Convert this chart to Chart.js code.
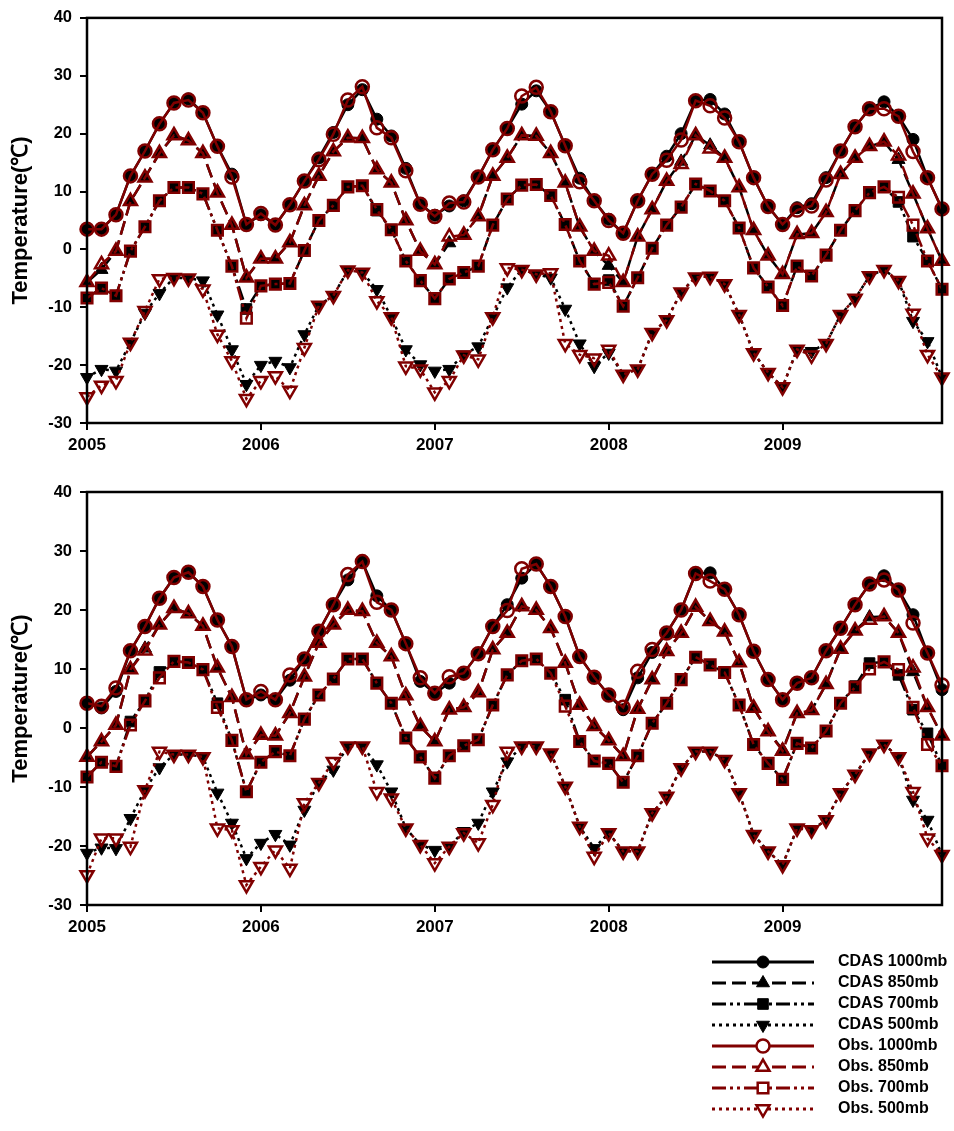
<!DOCTYPE html>
<html>
<head>
<meta charset="utf-8">
<script src="https://cdn.jsdelivr.net/npm/chart.js@4.4.1/dist/chart.umd.min.js"></script>
<style>
  body { margin: 0; background: #fff; }
  #wrap { position: relative; width: 954px; height: 1131px; }
  canvas { position: absolute; left: 0; }
  #top { top: 0; }
  #bottom { top: 460px; }
</style>
</head>
<body>
<div id="wrap">
  <canvas id="top" width="954" height="460" style="width:954px;height:460px"></canvas>
  <canvas id="bottom" width="954" height="671" style="width:954px;height:671px"></canvas>
</div>
<script>
// monthly values, Jan 2005 .. Dec 2009
const startYear = 2005;
const yearTicks = [2005, 2006, 2007, 2008, 2009];
const seriesNames = ["CDAS 1000mb", "CDAS 850mb", "CDAS 700mb", "CDAS 500mb",
                     "Obs. 1000mb", "Obs. 850mb", "Obs. 700mb", "Obs. 500mb"];

// upper panel
const cdas1000A = [3.5,3.5,6.0,12.7,17.0,21.7,25.3,26.0,23.6,17.8,13.0,4.3, 6.0,4.2,7.7,11.8,15.8,20.2,25.0,27.6,22.5,19.6,14.0,7.8, 5.9,7.5,8.4,12.5,17.2,20.9,25.1,27.4,23.8,17.9,12.3,8.4, 5.2,2.8,8.4,13.0,16.1,20.0,25.7,25.9,23.4,18.6,12.4,7.4, 4.3,7.2,7.9,12.4,17.0,21.2,24.3,25.5,23.0,19.0,12.4,7.0];
const cdas850A = [-5.7,-3.5,-0.3,8.3,12.4,16.6,19.7,18.8,16.6,9.8,4.2,-4.9, -1.6,-1.6,1.2,7.6,12.7,16.9,19.3,19.2,13.8,11.5,5.0,-0.3, -2.6,1.1,2.5,5.7,12.7,15.8,19.7,19.6,16.6,11.5,3.9,-0.3, -2.8,-5.7,2.2,6.9,11.8,15.2,19.7,18.0,15.8,10.7,3.3,-1.1, -4.3,2.6,2.8,6.4,13.0,15.8,17.8,18.6,15.5,9.6,3.6,-2.0];
const cdas700A = [-8.4,-6.7,-8.0,-0.3,3.9,8.4,10.7,10.7,9.6,3.3,-2.9,-10.3, -6.3,-6.0,-5.9,-0.2,5.0,7.6,10.8,11.0,6.7,3.4,-2.0,-5.4, -8.5,-5.1,-4.0,-2.9,4.2,8.7,11.1,11.2,9.3,4.3,-2.0,-6.0, -5.3,-9.8,-4.9,0.2,4.2,7.3,11.3,10.1,8.4,3.7,-3.2,-6.5, -9.7,-2.9,-4.6,-1.0,3.3,6.7,9.8,10.8,8.2,2.2,-2.0,-6.9];
const cdas500A = [-22.1,-20.7,-21.0,-16.1,-11.0,-7.6,-4.9,-5.0,-5.4,-11.3,-17.3,-23.3, -20.0,-19.3,-20.4,-14.7,-9.7,-8.0,-3.6,-4.0,-6.9,-11.7,-17.3,-19.9, -21.0,-20.7,-18.2,-16.8,-11.7,-6.6,-3.5,-4.3,-4.9,-10.3,-16.3,-20.2, -17.9,-21.6,-20.7,-14.4,-12.2,-7.4,-4.8,-4.7,-6.0,-11.3,-17.9,-21.3, -23.8,-17.3,-17.6,-16.3,-11.3,-8.5,-4.6,-3.5,-5.4,-12.4,-15.9,-22.1];
const obs1000A = [3.5,3.5,6.0,12.7,17.0,21.7,25.3,25.8,23.6,17.8,12.5,4.3, 6.2,4.2,7.7,11.8,15.5,19.9,25.8,28.1,21.0,19.3,13.6,7.8, 5.7,8.0,8.2,12.5,17.2,20.9,26.5,28.0,23.8,17.9,11.7,8.4, 5.0,2.8,8.4,13.0,15.4,18.9,25.7,24.8,22.7,18.6,12.4,7.4, 4.3,6.8,7.5,12.0,17.0,21.2,24.3,24.3,23.0,16.9,12.4,7.0];
const obs850A = [-5.7,-2.6,-0.3,8.3,12.4,16.6,19.7,18.8,16.6,9.8,4.2,-4.9, -1.6,-1.6,1.2,7.6,12.7,16.9,19.3,19.2,13.8,11.5,5.0,-0.3, -2.6,2.2,2.5,5.7,12.7,15.8,19.7,19.6,16.6,11.5,3.9,-0.3, -1.1,-5.7,2.2,6.9,11.8,14.7,19.7,17.4,15.8,10.7,3.3,-1.1, -4.3,2.6,2.8,6.4,13.0,15.8,17.8,18.6,16.2,9.6,3.6,-2.0];
const obs700A = [-8.4,-6.7,-8.0,-0.3,3.9,8.4,10.7,10.7,9.6,3.3,-2.9,-11.9, -6.3,-6.0,-5.9,-0.2,5.0,7.6,10.8,11.0,6.9,3.4,-2.0,-5.4, -8.5,-5.1,-4.0,-2.9,4.2,8.7,11.1,11.2,9.3,4.3,-2.0,-6.0, -5.7,-9.8,-4.9,0.2,4.2,7.3,11.3,10.1,8.4,3.7,-3.2,-6.5, -9.7,-2.9,-4.6,-1.0,3.3,6.7,9.8,10.8,9.0,4.2,-2.0,-6.9];
const obs500A = [-25.5,-23.5,-22.7,-16.1,-10.6,-5.1,-4.9,-5.0,-6.9,-14.7,-19.3,-25.8, -22.7,-21.9,-24.4,-17.0,-9.7,-8.0,-3.6,-4.0,-8.9,-11.7,-20.2,-20.7, -24.7,-22.7,-18.3,-19.0,-11.7,-3.2,-3.5,-4.3,-4.1,-16.3,-18.2,-18.8, -17.3,-21.6,-20.7,-14.4,-12.2,-7.4,-4.8,-4.7,-6.0,-11.3,-17.9,-21.3, -23.8,-17.3,-18.3,-16.3,-11.3,-8.5,-4.6,-3.5,-5.4,-11.1,-18.2,-22.1];

// lower panel
const cdas1000B = [4.2,3.4,6.2,13.1,17.2,22.0,25.5,26.4,24.0,18.3,13.8,4.8, 5.6,4.8,8.1,11.7,16.4,20.9,25.1,28.2,22.4,20.0,14.3,7.9, 5.9,7.6,9.3,12.6,17.2,20.9,25.4,27.8,24.0,18.9,12.1,8.6, 5.6,3.1,8.5,12.8,16.1,20.0,26.2,26.3,23.5,19.2,13.0,8.2, 4.8,7.6,8.5,13.1,16.9,20.9,24.4,25.8,23.4,19.2,12.7,6.5];
const cdas850B = [-4.9,-2.3,0.5,9.9,13.5,17.5,20.3,19.4,17.3,10.2,5.2,-4.5, -1.2,-1.3,2.5,8.7,14.4,17.5,20.0,19.8,14.4,12.1,5.5,0.3, -2.3,3.1,3.5,6.0,13.3,16.1,20.6,20.0,16.9,11.0,3.9,0.3, -2.1,-4.8,3.2,8.2,13.0,16.1,20.5,18.1,16.3,11.1,3.4,-0.6, -3.7,2.5,3.0,7.4,13.4,16.5,18.8,18.9,16.1,9.5,3.5,-1.3];
const cdas700B = [-8.3,-5.8,-6.5,1.1,4.6,9.5,11.3,11.1,9.9,4.2,-2.1,-10.8, -5.8,-4.0,-4.7,1.5,5.6,8.3,11.7,11.7,7.6,4.2,-1.7,-4.9, -8.5,-4.7,-3.0,-2.0,3.9,9.0,11.4,11.7,9.3,4.8,-2.3,-5.6, -6.0,-9.2,-4.7,0.8,4.2,8.2,12.0,10.7,9.4,3.9,-2.8,-6.0, -8.7,-2.6,-3.4,-0.5,4.2,7.1,11.0,11.2,9.0,3.1,-0.9,-6.4];
const cdas500B = [-21.2,-20.3,-20.4,-15.3,-10.5,-6.7,-4.5,-4.5,-4.9,-11.0,-16.1,-22.1, -19.5,-18.0,-19.8,-13.9,-9.3,-7.1,-3.1,-3.1,-6.2,-10.8,-17.0,-19.8, -20.7,-20.1,-17.5,-16.1,-10.8,-5.7,-3.1,-3.1,-4.3,-9.9,-16.7,-20.4, -17.8,-20.9,-20.9,-14.4,-11.6,-6.8,-4.0,-4.0,-5.4,-11.0,-18.1,-20.9, -23.2,-17.0,-17.3,-15.6,-11.0,-7.9,-4.3,-2.8,-4.9,-12.2,-15.6,-21.5];
const obs1000B = [4.2,3.7,6.8,13.1,17.2,22.0,25.5,26.4,24.0,18.3,13.8,4.8, 6.2,4.8,9.0,11.7,16.4,20.9,26.0,28.2,21.3,20.0,14.3,8.5, 5.9,8.7,9.3,12.6,17.2,19.9,27.0,27.8,24.0,18.9,12.1,8.6, 5.6,3.5,9.6,13.3,16.1,20.0,26.2,24.9,23.5,19.2,13.0,8.2, 4.8,7.6,8.5,13.1,16.9,20.9,24.4,25.1,23.4,17.8,12.7,7.3];
const obs850B = [-4.9,-2.3,0.5,9.9,13.1,17.5,20.3,19.4,17.3,10.2,5.2,-4.5, -1.2,-1.3,2.5,8.7,14.4,17.5,20.0,19.8,14.4,12.1,5.5,0.3, -2.3,3.1,3.5,6.0,13.3,16.1,20.6,20.0,16.9,11.0,3.9,0.3, -2.1,-4.8,3.2,8.2,13.0,16.1,20.5,18.1,16.3,11.1,3.4,-0.6, -3.9,2.5,3.0,7.4,13.4,16.5,18.3,18.9,16.1,10.2,3.5,-1.3];
const obs700B = [-8.3,-5.8,-6.5,0.5,4.6,8.5,11.3,11.1,9.9,3.5,-2.1,-10.8, -5.8,-4.0,-4.7,1.5,5.6,8.3,11.7,11.7,7.6,4.2,-1.7,-4.9, -8.5,-4.7,-3.0,-2.0,3.9,9.0,11.4,11.7,9.3,3.7,-2.3,-5.6, -6.0,-9.2,-4.7,0.8,4.2,8.2,12.0,10.7,9.4,3.9,-2.8,-6.0, -8.7,-2.6,-3.4,-0.5,4.2,6.9,10.0,11.2,9.9,3.5,-2.8,-6.4];
const obs500B = [-24.9,-18.7,-18.7,-20.1,-10.5,-4.0,-4.5,-4.5,-4.9,-17.0,-17.3,-26.6, -23.5,-20.7,-23.8,-12.7,-9.3,-5.7,-3.1,-3.1,-10.8,-11.9,-17.0,-19.8, -22.9,-20.1,-17.8,-19.5,-13.0,-4.0,-3.1,-3.1,-4.3,-9.9,-16.7,-21.8, -17.8,-20.9,-20.9,-14.4,-11.6,-6.8,-4.0,-4.0,-5.4,-11.0,-18.1,-20.9, -23.2,-17.0,-17.3,-15.6,-11.0,-7.9,-4.3,-2.8,-4.9,-10.8,-18.7,-21.5];

const BLACK = "#000000";
const RED = "#800000";
const FONT = "'Liberation Sans', Arial, Helvetica, sans-serif";

// line / marker look for each series, same order as seriesNames
const looks = [
  { color: BLACK, dash: [],                  style: "circle",   rot: 0,   r: 6,   open: false },
  { color: BLACK, dash: [14, 6],             style: "triangle", rot: 0,   r: 7.5, open: false },
  { color: BLACK, dash: [14, 4, 3, 4, 3, 4], style: "rect",     rot: 0,   r: 7.5, open: false },
  { color: BLACK, dash: [3, 4],              style: "triangle", rot: 180, r: 7.5, open: false },
  { color: RED,   dash: [],                  style: "circle",   rot: 0,   r: 6.5, open: true },
  { color: RED,   dash: [14, 6],             style: "triangle", rot: 0,   r: 7.5, open: true },
  { color: RED,   dash: [14, 4, 3, 4, 3, 4], style: "rect",     rot: 0,   r: 7.5, open: true },
  { color: RED,   dash: [3, 4],              style: "triangle", rot: 180, r: 7.5, open: true }
];

function buildDatasets(values) {
  return values.map((vals, k) => {
    const lk = looks[k];
    return {
      label: seriesNames[k],
      data: vals.map((v, i) => ({ x: startYear + i / 12, y: v })),
      borderColor: lk.color,
      borderWidth: 2.5,
      borderDash: lk.dash,
      pointStyle: lk.style,
      pointRotation: lk.rot,
      pointRadius: lk.r,
      pointHoverRadius: lk.r,
      pointBackgroundColor: lk.open ? "rgba(0,0,0,0)" : lk.color,
      pointBorderColor: lk.color,
      pointBorderWidth: lk.open ? 2.5 : 1,
      order: lk.open ? 1 : 2,
      tension: 0,
      clip: false
    };
  });
}

// box round the plot area
const framePlugin = {
  id: "frame",
  afterDatasetsDraw(chart) {
    const { left, top, right, bottom } = chart.chartArea;
    const ctx = chart.ctx;
    ctx.save();
    ctx.strokeStyle = "#000";
    ctx.lineWidth = 2.5;
    ctx.strokeRect(left, top, right - left, bottom - top);
    ctx.restore();
  }
};

// legend under the lower panel: line with marker in the middle, then label
const legendPlugin = {
  id: "lineLegend",
  afterDraw(chart) {
    const ctx = chart.ctx;
    chart.data.datasets.forEach((ds, i) => {
      const lk = looks[i];
      const y = 502 + i * 21;
      ctx.save();
      ctx.strokeStyle = lk.color;
      ctx.lineWidth = 3;
      ctx.setLineDash(lk.dash);
      ctx.beginPath();
      ctx.moveTo(712, y);
      ctx.lineTo(814, y);
      ctx.stroke();
      ctx.setLineDash([]);
      ctx.fillStyle = lk.open ? "#fff" : lk.color;
      ctx.strokeStyle = lk.color;
      ctx.lineWidth = lk.open ? 2.5 : 1;
      Chart.helpers.drawPoint(ctx, {
        pointStyle: lk.style, rotation: lk.rot, radius: lk.r, borderWidth: lk.open ? 2.5 : 1
      }, 763, y);
      ctx.fillStyle = "#000";
      ctx.font = "bold 16px " + FONT;
      ctx.textBaseline = "middle";
      ctx.textAlign = "left";
      ctx.fillText(ds.label, 838, y);
      ctx.restore();
    });
  }
};

function makePanel(id, values, padTop, padBottom, extraPlugins) {
  return new Chart(document.getElementById(id), {
    type: "line",
    data: { datasets: buildDatasets(values) },
    options: {
      responsive: false,
      animation: false,
      events: [],
      layout: { padding: { top: padTop, right: 12, bottom: padBottom, left: 0 } },
      plugins: { legend: { display: false }, tooltip: { enabled: false } },
      scales: {
        x: {
          type: "linear",
          min: startYear,
          max: startYear + 59 / 12,
          afterBuildTicks: s => { s.ticks = yearTicks.map(v => ({ value: v })); },
          afterFit: s => { s.height = 37; },
          border: { display: false },
          grid: { display: true, drawOnChartArea: false, drawTicks: true, tickLength: 7, color: "#000", lineWidth: 2 },
          ticks: {
            color: "#000", padding: 5, maxRotation: 0, autoSkip: false,
            font: { family: FONT, size: 17, weight: "bold" },
            callback: v => String(v)
          }
        },
        y: {
          min: -30,
          max: 40,
          afterFit: s => { s.width = 87; },
          border: { display: false },
          grid: { display: true, drawOnChartArea: false, drawTicks: true, tickLength: 7, color: "#000", lineWidth: 2 },
          ticks: {
            stepSize: 10, color: "#000", padding: 8,
            font: { family: FONT, size: 16.5, weight: "bold" }
          },
          title: {
            display: true,
            text: "Temperature(℃)",
            color: "#000",
            font: { family: FONT, size: 22, weight: "bold" },
            padding: { top: 8, bottom: 0 }
          }
        }
      }
    },
    plugins: [framePlugin].concat(extraPlugins)
  });
}

makePanel("top",
  [cdas1000A, cdas850A, cdas700A, cdas500A, obs1000A, obs850A, obs700A, obs500A],
  11, 0, []);
makePanel("bottom",
  [cdas1000B, cdas850B, cdas700B, cdas500B, obs1000B, obs850B, obs700B, obs500B],
  32, 189, [legendPlugin]);
</script>
</body>
</html>
